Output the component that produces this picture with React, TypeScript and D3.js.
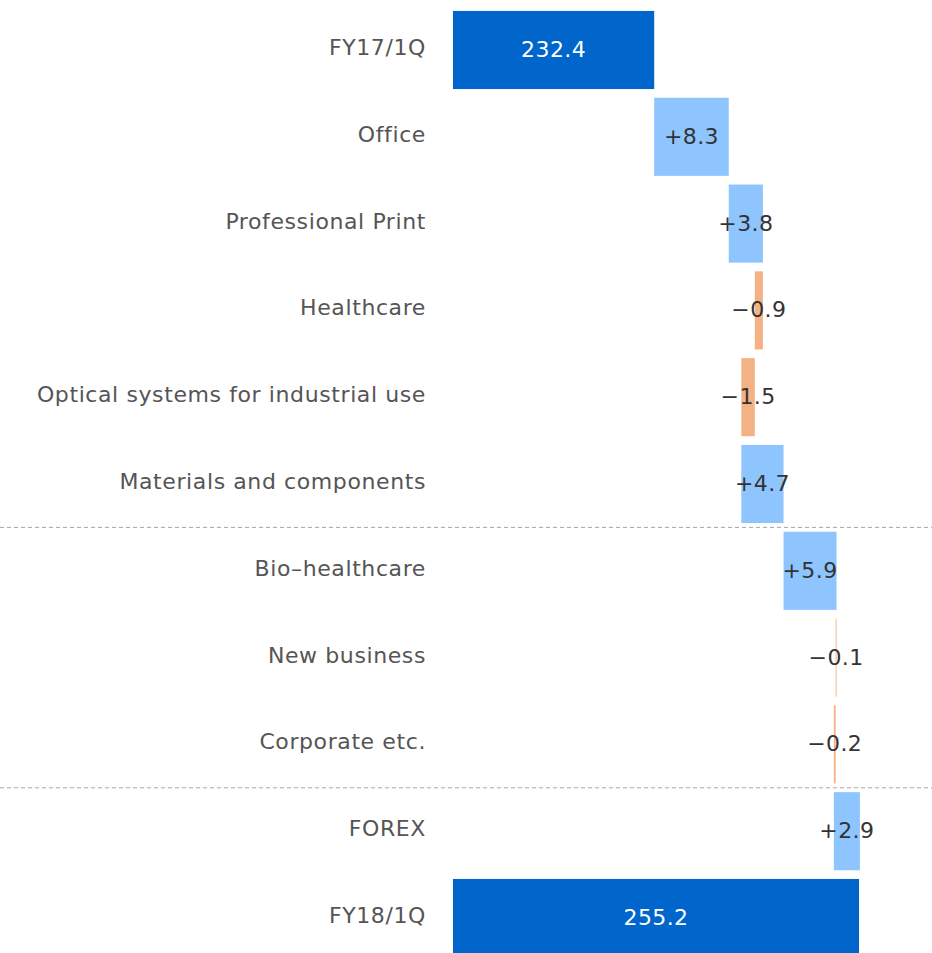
import React from "react";
import * as d3 from "d3";

const categories = [
  "FY17/1Q",
  "Office",
  "Professional Print",
  "Healthcare",
  "Optical systems for industrial use",
  "Materials and components",
  "Bio-healthcare",
  "New business",
  "Corporate etc.",
  "FOREX",
  "FY18/1Q",
];
const values = [232.4, 8.3, 3.8, -0.9, -1.5, 4.7, 5.9, -0.1, -0.2, 2.9, 255.2];
const kinds = ["total", "delta", "delta", "delta", "delta", "delta", "delta", "delta", "delta", "delta", "total"];
const separatorsAfter = ["Materials and components", "Corporate etc."];
const axisMin = 210;

const W = 932;
const H = 965;
const FONT = "'DejaVu Sans', sans-serif";

export default function App() {
  let run = 0;
  const bars = categories.map((c, i) => {
    const v = values[i];
    if (kinds[i] === "total") {
      run = v;
      return { c, v, x0: axisMin, x1: v, kind: "total" };
    }
    const start = run;
    run = run + v;
    return { c, v, x0: Math.min(start, run), x1: Math.max(start, run), kind: v >= 0 ? "pos" : "neg" };
  });

  const x = d3.scaleLinear().domain([axisMin, 255.2]).range([453, 859]);
  const y = d3.scaleBand().domain(categories).range([6.6, 6.6 + 86.8 * 11]).paddingInner(0.1).paddingOuter(0.05);
  const color = (k: string) => (k === "total" ? "#0066CC" : k === "pos" ? "#8EC5FF" : "#F4B183");
  const fmt = (b: any) => (b.kind === "total" ? b.v.toFixed(1) : (b.v >= 0 ? "+" : "\u2212") + Math.abs(b.v).toFixed(1));

  return (
    <svg width={W} height={H} style={{ position: "absolute", left: 0, top: 0 }} fontFamily={FONT}>
      {separatorsAfter.map((s) => {
        const i = categories.indexOf(s);
        const yy = (y(categories[i])! + y.bandwidth() + y(categories[i + 1])!) / 2;
        return <line key={s} x1={0} x2={W} y1={yy} y2={yy} stroke="#a6a6a6" strokeDasharray="4,3" strokeWidth={1} />;
      })}
      {bars.map((b) => {
        const yy = y(b.c)!;
        const cy = yy + y.bandwidth() / 2;
        return (
          <g key={b.c}>
            <rect x={x(b.x0)} y={yy} width={Math.max(0.8, x(b.x1) - x(b.x0))} height={y.bandwidth()} fill={color(b.kind)} />
            <text x={426} y={cy} dy="0.23em" textAnchor="end" fill="#555" fontSize={22} letterSpacing={0.6}>
              {b.c.replace("-", "\u2013")}
            </text>
            <text x={(x(b.x0) + x(b.x1)) / 2} y={cy} dy="0.32em" textAnchor="middle" fill={b.kind === "total" ? "#fff" : "#333"} fontSize={22} letterSpacing={0.4}>
              {fmt(b)}
            </text>
          </g>
        );
      })}
    </svg>
  );
}
